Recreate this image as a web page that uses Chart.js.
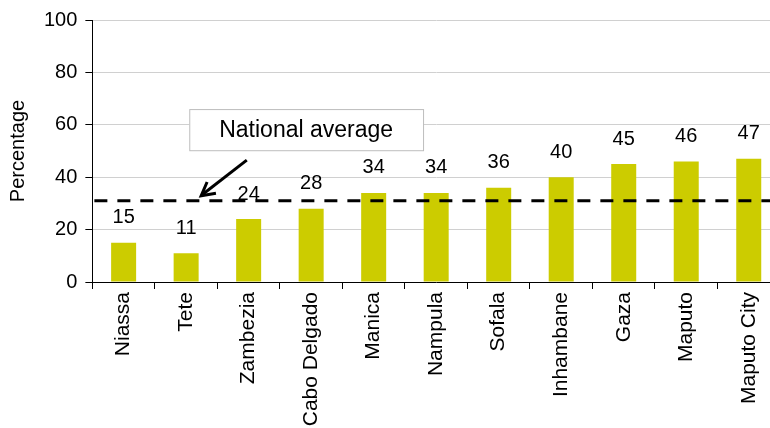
<!DOCTYPE html>
<html>
<head>
<meta charset="utf-8">
<script src="https://cdn.jsdelivr.net/npm/chart.js@4"></script>
<style>
  html, body { margin: 0; padding: 0; background: #fff; overflow: hidden; }
  #wrap { width: 780px; height: 428px; }
</style>
</head>
<body>
<div id="wrap"><canvas id="chart"></canvas></div>
<script>
// Data
const provinces = ['Niassa', 'Tete', 'Zambezia', 'Cabo Delgado', 'Manica', 'Nampula',
                   'Sofala', 'Inhambane', 'Gaza', 'Maputo', 'Maputo City'];
const percentages = [15, 11, 24, 28, 34, 34, 36, 40, 45, 46, 47];
const nationalAverage = 31;
const yTicks = [0, 20, 40, 60, 80, 100];

const FONT = '"Liberation Sans", Arial, sans-serif';

// value labels above bars
const valueLabels = {
    id: 'valueLabels',
    afterDatasetsDraw(chart) {
        const ctx = chart.ctx;
        const meta = chart.getDatasetMeta(0);
        ctx.save();
        ctx.font = '20px ' + FONT;
        ctx.fillStyle = '#000';
        ctx.textAlign = 'center';
        ctx.textBaseline = 'middle';
        meta.data.forEach((bar, i) => {
            ctx.fillText(String(percentages[i]), bar.x, bar.y - 25);
        });
        ctx.restore();
    }
};

// dashed national average line + callout
const averageLine = {
    id: 'averageLine',
    afterDatasetsDraw(chart) {
        const ctx = chart.ctx;
        const x = chart.scales.x, y = chart.scales.y;
        const area = chart.chartArea;
        const yAvg = y.getPixelForValue(nationalAverage);
        ctx.save();
        ctx.strokeStyle = '#000';
        ctx.lineWidth = 3;
        ctx.setLineDash([13, 10]);
        ctx.beginPath();
        ctx.moveTo(area.left + 2, yAvg);
        ctx.lineTo(area.right, yAvg);
        ctx.stroke();
        ctx.setLineDash([]);

        // callout box
        const bx0 = x.getPixelForValue(1.05), bx1 = x.getPixelForValue(4.79);
        const by0 = y.getPixelForValue(66), by1 = y.getPixelForValue(50.3);
        ctx.fillStyle = '#fff';
        ctx.fillRect(bx0, by0, bx1 - bx0, by1 - by0);
        ctx.strokeStyle = '#bdbdbd';
        ctx.lineWidth = 1;
        ctx.strokeRect(bx0 + 0.5, by0 + 0.5, bx1 - bx0, by1 - by0);
        ctx.fillStyle = '#000';
        ctx.font = '23px ' + FONT;
        ctx.textAlign = 'center';
        ctx.textBaseline = 'middle';
        ctx.fillText('National average', (bx0 + bx1) / 2, (by0 + by1) / 2 + 1);

        // arrow with open head
        const tx = x.getPixelForValue(1.97), ty = y.getPixelForValue(46.5);
        const hx = x.getPixelForValue(1.24), hy = yAvg - 5;
        ctx.strokeStyle = '#000';
        ctx.lineWidth = 3;
        ctx.lineCap = 'butt';
        ctx.beginPath();
        ctx.moveTo(tx, ty);
        ctx.lineTo(hx + 1, hy - 1);
        ctx.stroke();
        const ang = Math.atan2(hy - ty, hx - tx);
        const len = 15, spread = 0.5;
        ctx.beginPath();
        ctx.moveTo(hx - len * Math.cos(ang - spread), hy - len * Math.sin(ang - spread));
        ctx.lineTo(hx, hy);
        ctx.lineTo(hx - len * Math.cos(ang + spread), hy - len * Math.sin(ang + spread));
        ctx.stroke();
        ctx.restore();
    }
};

const ctx = document.getElementById('chart').getContext('2d');
const chart = new Chart(ctx, {
    type: 'bar',
    data: {
        labels: provinces,
        datasets: [{
            data: percentages,
            backgroundColor: '#cccc00',
            borderWidth: 0,
            barPercentage: 0.4,
            categoryPercentage: 1.0
        }]
    },
    options: {
        responsive: true,
        maintainAspectRatio: false,
        animation: false,
        layout: { padding: { top: 9, left: 6, right: 0, bottom: 0 } },
        plugins: {
            legend: { display: false },
            tooltip: { enabled: false }
        },
        scales: {
            x: {
                afterFit(axis) { axis.height = 146; },
                grid: {
                    display: true,
                    drawOnChartArea: false,
                    offset: true,
                    color: '#000',
                    tickLength: 7
                },
                border: { color: '#000', width: 1 },
                ticks: {
                    color: '#000',
                    font: { family: FONT, size: 21 },
                    minRotation: 90,
                    maxRotation: 90,
                    padding: 3,
                    autoSkip: false
                }
            },
            y: {
                min: 0,
                max: 100,
                afterBuildTicks(axis) {
                    axis.ticks = yTicks.map(v => ({ value: v }));
                },
                grid: {
                    color: '#d0d0d0',
                    tickColor: '#000',
                    tickLength: 7
                },
                border: { color: '#000', width: 1 },
                ticks: {
                    color: '#000',
                    font: { family: FONT, size: 20 },
                    padding: 8
                },
                title: {
                    display: true,
                    text: 'Percentage',
                    color: '#000',
                    font: { family: FONT, size: 20 },
                    padding: { top: 0, bottom: 6 }
                }
            }
        }
    },
    plugins: [valueLabels, averageLine]
});
</script>
</body>
</html>
